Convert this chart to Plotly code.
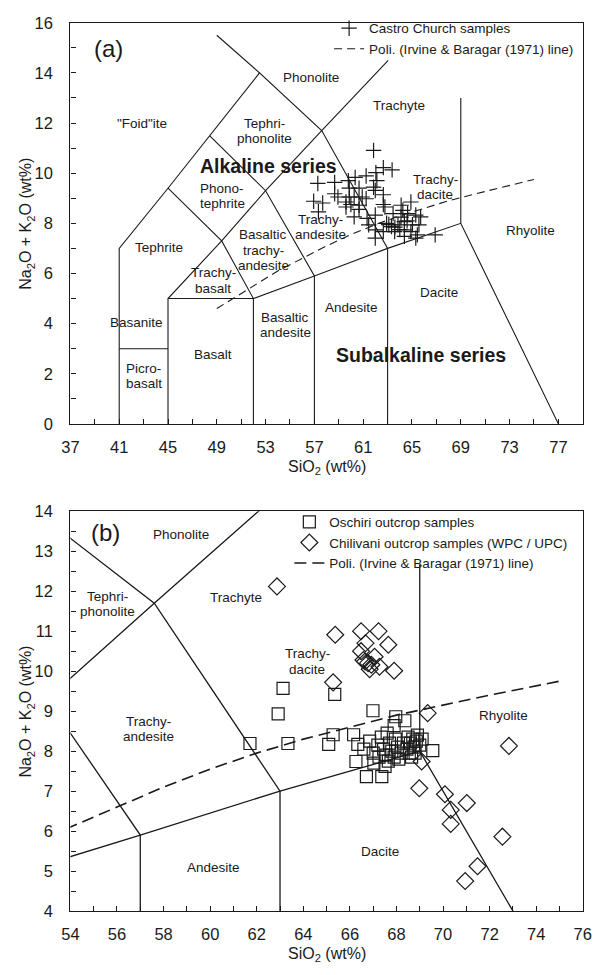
import plotly.graph_objects as go

# ---------------- data ----------------
# TAS boundary polylines (SiO2, Na2O+K2O)
tas_x = [
    [41, 41, 45, 48.4, 52.5, 57.6, 63, 63],
    [49, 52.5],
    [41, 45],
    [45, 45, 49.4, 53, 57.6, 63.05],
    [45, 52, 57, 63, 69, 77],
    [52, 52, 49.4, 45],
    [57, 57, 53, 48.4],
    [69, 69],
]
tas_y = [
    [0, 7, 9.4, 11.5, 14, 11.7, 7, 0],
    [15.5, 14],
    [3, 3],
    [0, 5, 7.3, 9.3, 11.7, 14.5],
    [5, 5, 5.9, 7, 8, 0],
    [0, 5, 7.3, 9.4],
    [0, 5.9, 9.3, 11.5],
    [8, 13],
]

# Irvine & Baragar (1971) alkaline/subalkaline line
poli_x = [49, 51, 54, 56, 58, 60, 62, 64, 66, 68, 70, 72, 75]
poli_y = [4.6, 5.2, 6.1, 6.6, 7.1, 7.55, 7.95, 8.3, 8.6, 8.9, 9.15, 9.4, 9.75]

# Panel (a): Castro Church samples
castro_sio2 = [61.85, 62.65, 63.37, 57.28, 58.66, 59.78, 60.34, 61.24, 62.04, 62.12,
               59.86, 60.66, 61.85, 61.99, 62.65, 58.66, 58.93, 59.86, 60.26, 60.92,
               61.24, 56.94, 57.68, 59.59, 59.99, 60.66, 62.65, 62.78, 57.33, 59.59,
               60.66, 60.26, 61.32, 61.99, 63.45, 64.11, 64.91, 64.25, 64.64, 65.31,
               65.71, 61.45, 62.92, 63.32, 63.85, 64.38, 65.04, 65.57, 61.99, 62.65,
               63.58, 64.38, 64.91, 65.44, 61.99, 64.38, 65.31, 66.9, 63.1, 63.6,
               64.0, 64.6, 64.1]
castro_alk = [10.91, 10.22, 10.13, 9.59, 9.63, 9.70, 9.83, 9.89, 10.02, 9.70,
              9.40, 9.40, 9.44, 9.31, 9.14, 9.18, 9.05, 9.05, 9.05, 9.05,
              8.98, 8.88, 8.81, 8.85, 8.75, 8.72, 8.75, 8.65, 8.46, 8.65,
              8.56, 8.26, 8.20, 8.33, 8.39, 8.72, 8.85, 8.52, 8.39, 8.33,
              8.26, 7.94, 8.00, 7.87, 7.94, 8.07, 7.94, 7.94, 7.74, 7.67,
              7.67, 7.74, 7.67, 7.54, 7.41, 7.48, 7.41, 7.54, 7.95, 7.85,
              7.75, 8.10, 8.25]

# Panel (b): Oschiri outcrop samples
oschiri_sio2 = [61.71, 63.13, 65.35, 62.92, 63.34, 65.28, 65.09, 66.16, 66.34, 66.26,
                66.71, 67.37, 66.99, 67.97, 68.36, 67.51, 69.56, 67.03, 67.9,
                66.6, 66.85, 67.0, 67.2, 67.35, 67.45, 67.55, 67.6, 67.7, 67.8,
                67.9, 67.95, 68.05, 68.2, 68.3, 68.45, 68.5, 68.6, 68.65, 68.7,
                68.75, 68.85, 68.9, 69.0, 69.1, 68.55, 67.25, 67.65, 68.1, 68.8]
oschiri_alk = [8.19, 9.57, 9.42, 8.93, 8.19, 8.41, 8.17, 8.41, 8.17, 7.74,
               7.36, 7.36, 9.01, 8.86, 8.76, 7.62, 8.01, 7.70, 8.64,
               8.05, 8.25, 7.95, 8.15, 8.35, 8.05, 7.90, 8.45, 8.20, 8.00,
               7.85, 8.30, 8.10, 7.95, 8.20, 8.05, 8.35, 8.20, 7.85, 8.30,
               8.10, 8.25, 8.40, 8.15, 8.30, 7.95, 7.85, 7.75, 7.80, 7.95]

# Panel (b): Chilivani outcrop samples (WPC / UPC)
chil_sio2 = [62.87, 65.37, 66.48, 67.23, 66.67, 67.65, 66.48, 67.06, 66.65, 66.78,
             66.92, 66.85, 67.27, 66.58, 67.9, 65.28, 69.34, 69.08, 68.98, 70.08,
             71.02, 70.33, 70.33, 72.83, 72.55, 71.48, 70.95]
chil_alk = [12.12, 10.91, 11.0, 11.0, 10.7, 10.66, 10.5, 10.36, 10.24, 10.2,
            10.16, 10.05, 10.11, 10.28, 10.01, 9.72, 8.95, 7.74, 7.07, 6.92,
            6.70, 6.53, 6.18, 8.13, 5.86, 5.12, 4.75]

# Field labels (text, SiO2, Na2O+K2O of label centre)
labels_a = [
    ('"Foid"ite', 42.9, 12.0), ("Tephri-\nphonolite", 52.9, 11.67), ("Phonolite", 56.7, 13.83),
    ("Trachyte", 63.9, 12.7), ("Phono-\ntephrite", 49.44, 9.1), ("Tephrite", 44.25, 7.02),
    ("Basaltic\ntrachy-\nandesite", 52.8, 6.93), ("Trachy-\nbasalt", 48.7, 5.72),
    ("Basanite", 42.4, 4.05), ("Picro-\nbasalt", 43.0, 1.9), ("Basalt", 48.65, 2.75),
    ("Basaltic\nandesite", 54.6, 3.95), ("Andesite", 60.05, 4.63),
    ("Trachy-\nandesite", 57.5, 7.86), ("Trachy-\ndacite", 66.9, 9.44),
    ("Dacite", 67.25, 5.23), ("Rhyolite", 74.75, 7.71),
]
series_a = [("Alkaline series", 53.2, 10.28), ("Subalkaline series", 65.7, 2.74)]
labels_b = [
    ("Phonolite", 58.75, 13.43), ("Tephri-\nphonolite", 55.6, 11.68), ("Trachyte", 61.1, 11.85),
    ("Trachy-\nandesite", 57.35, 8.56), ("Andesite", 60.15, 5.08), ("Trachy-\ndacite", 64.17, 10.24),
    ("Rhyolite", 72.6, 8.88), ("Dacite", 67.3, 5.49),
]

# ---------------- figure ----------------
W, H = 601, 975
FONT = "Liberation Sans, Arial, sans-serif"
INK = "#1a1a1a"

XL, XR = 63.3, 591.5          # plot area left/right (px)
A_TOP, A_BOT = 14, 422.7      # panel (a) top/bottom (px)
B_TOP, B_BOT = 511.7, 919     # panel (b) top/bottom (px)
LINE_PX = 15.5                # spacing of lines in the field labels


def join(xs_list, ys_list):
    xs, ys = [], []
    for xs_, ys_ in zip(xs_list, ys_list):
        xs += list(xs_) + [None]
        ys += list(ys_) + [None]
    return xs, ys


bx, by = join(tas_x, tas_y)

fig = go.Figure()
for xa, ya, lw in (("x", "y", 1.1), ("x2", "y2", 1.3)):
    fig.add_trace(go.Scatter(x=bx, y=by, mode="lines", xaxis=xa, yaxis=ya,
                             line=dict(color=INK, width=lw), showlegend=False,
                             hoverinfo="skip"))

# panel (a)
fig.add_trace(go.Scatter(x=castro_sio2, y=castro_alk, mode="markers", name="Castro Church samples",
                         xaxis="x", yaxis="y", legend="legend",
                         marker=dict(symbol="cross-thin", size=11, line=dict(color=INK, width=1.2))))
fig.add_trace(go.Scatter(x=poli_x, y=poli_y, mode="lines", name="Poli. (Irvine & Baragar (1971) line)",
                         xaxis="x", yaxis="y", legend="legend",
                         line=dict(color=INK, width=1.1, dash="8px,5px")))

# panel (b)
fig.add_trace(go.Scatter(x=oschiri_sio2, y=oschiri_alk, mode="markers", name="Oschiri outcrop samples",
                         xaxis="x2", yaxis="y2", legend="legend2",
                         marker=dict(symbol="square-open", size=12, color=INK, line=dict(width=1.2))))
fig.add_trace(go.Scatter(x=chil_sio2, y=chil_alk, mode="markers", name="Chilivani outcrop samples (WPC / UPC)",
                         xaxis="x2", yaxis="y2", legend="legend2",
                         marker=dict(symbol="diamond-open", size=13, color=INK, line=dict(width=1.2))))
fig.add_trace(go.Scatter(x=poli_x, y=poli_y, mode="lines", name="Poli. (Irvine & Baragar (1971) line)",
                         xaxis="x2", yaxis="y2", legend="legend2",
                         line=dict(color=INK, width=1.6, dash="12px,6px")))

xdom = [XL / W, XR / W]
ya_dom = [1 - A_BOT / H, 1 - A_TOP / H]
yb_dom = [1 - B_BOT / H, 1 - B_TOP / H]


def ax(rng, dtick, minor, dom, anchor, tick0, standoff):
    return dict(domain=dom, range=rng, anchor=anchor, dtick=dtick, tick0=tick0,
                ticks="inside", ticklen=5, tickwidth=1, tickcolor=INK,
                minor=dict(dtick=minor, tick0=tick0, ticks="inside", ticklen=5, tickcolor=INK, showgrid=False),
                showline=True, mirror=True, linecolor=INK, linewidth=1.3,
                showgrid=False, zeroline=False, ticklabelstandoff=standoff,
                tickfont=dict(family=FONT, size=16.5, color=INK), fixedrange=True)


annotations = []


def add_label(text, x, y, xref, yref, units_per_px):
    lines = text.split("\n")
    dy = LINE_PX * units_per_px
    for i, ln in enumerate(lines):
        yy = y + ((len(lines) - 1) / 2 - i) * dy
        annotations.append(dict(text=ln, x=x, y=yy, xref=xref, yref=yref, showarrow=False,
                                xanchor="center", yanchor="middle",
                                font=dict(family=FONT, size=13.5, color=INK)))


upp_a = 16 / (A_BOT - A_TOP)
upp_b = 10 / (B_BOT - B_TOP)
for t, x, y in labels_a:
    add_label(t, x, y, "x", "y", upp_a)
for t, x, y in labels_b:
    add_label(t, x, y, "x2", "y2", upp_b)
for t, x, y in series_a:
    annotations.append(dict(text="<b>" + t + "</b>", x=x, y=y, xref="x", yref="y", showarrow=False,
                            font=dict(family=FONT, size=19.5, color=INK)))
annotations.append(dict(text="(a)", x=40.15, y=14.98, xref="x", yref="y", showarrow=False,
                        font=dict(family=FONT, size=24, color=INK)))
annotations.append(dict(text="(b)", x=55.5, y=13.47, xref="x2", yref="y2", showarrow=False,
                        font=dict(family=FONT, size=24, color=INK)))
xc = (XL + XR) / 2 / W
for yy in (1 - 467 / H, 1 - 963 / H):
    annotations.append(dict(text="SiO<sub>2</sub> (wt%)", x=xc, y=yy, xref="paper", yref="paper",
                            xanchor="center", yanchor="middle",
                            showarrow=False, font=dict(family=FONT, size=16, color=INK)))
for yy in (1 - (A_TOP + A_BOT) / 2 / H, 1 - (B_TOP + B_BOT) / 2 / H):
    annotations.append(dict(text="Na<sub>2</sub>O + K<sub>2</sub>O (wt%)", x=18 / W, y=yy,
                            xref="paper", yref="paper", textangle=-90, showarrow=False,
                            xanchor="center", yanchor="middle",
                            font=dict(family=FONT, size=16, color=INK)))

# opaque box behind the legend of panel (b), as in the original
shapes = [dict(type="rect", xref="paper", yref="paper", layer="above",
               x0=282 / W, x1=585 / W, y0=1 - 566 / H, y1=1 - 513 / H,
               fillcolor="white", line=dict(width=0))]

fig.update_layout(
    width=W, height=H, margin=dict(l=0, r=0, t=0, b=0),
    paper_bgcolor="white", plot_bgcolor="white",
    font=dict(family=FONT, color=INK),
    xaxis=ax([37, 79], 4, 2, xdom, "y", 37, 8),
    yaxis=ax([0, 16], 2, 1, ya_dom, "x", 0, 13),
    xaxis2=ax([54, 76], 2, 1, xdom, "y2", 54, 8),
    yaxis2=ax([4, 14], 1, 0.5, yb_dom, "x2", 4, 13),
    legend=dict(x=330 / W, y=1 - 4 / H, xanchor="left", yanchor="top", bgcolor="rgba(0,0,0,0)",
                font=dict(family=FONT, size=13.5, color=INK), tracegroupgap=0, itemwidth=30),
    legend2=dict(x=289 / W, y=1 - 507 / H, xanchor="left", yanchor="top", bgcolor="rgba(0,0,0,0)",
                 font=dict(family=FONT, size=13.5, color=INK), tracegroupgap=0, itemwidth=30),
    annotations=annotations,
    shapes=shapes,
    showlegend=True,
)

fig.write_html("out.html")
